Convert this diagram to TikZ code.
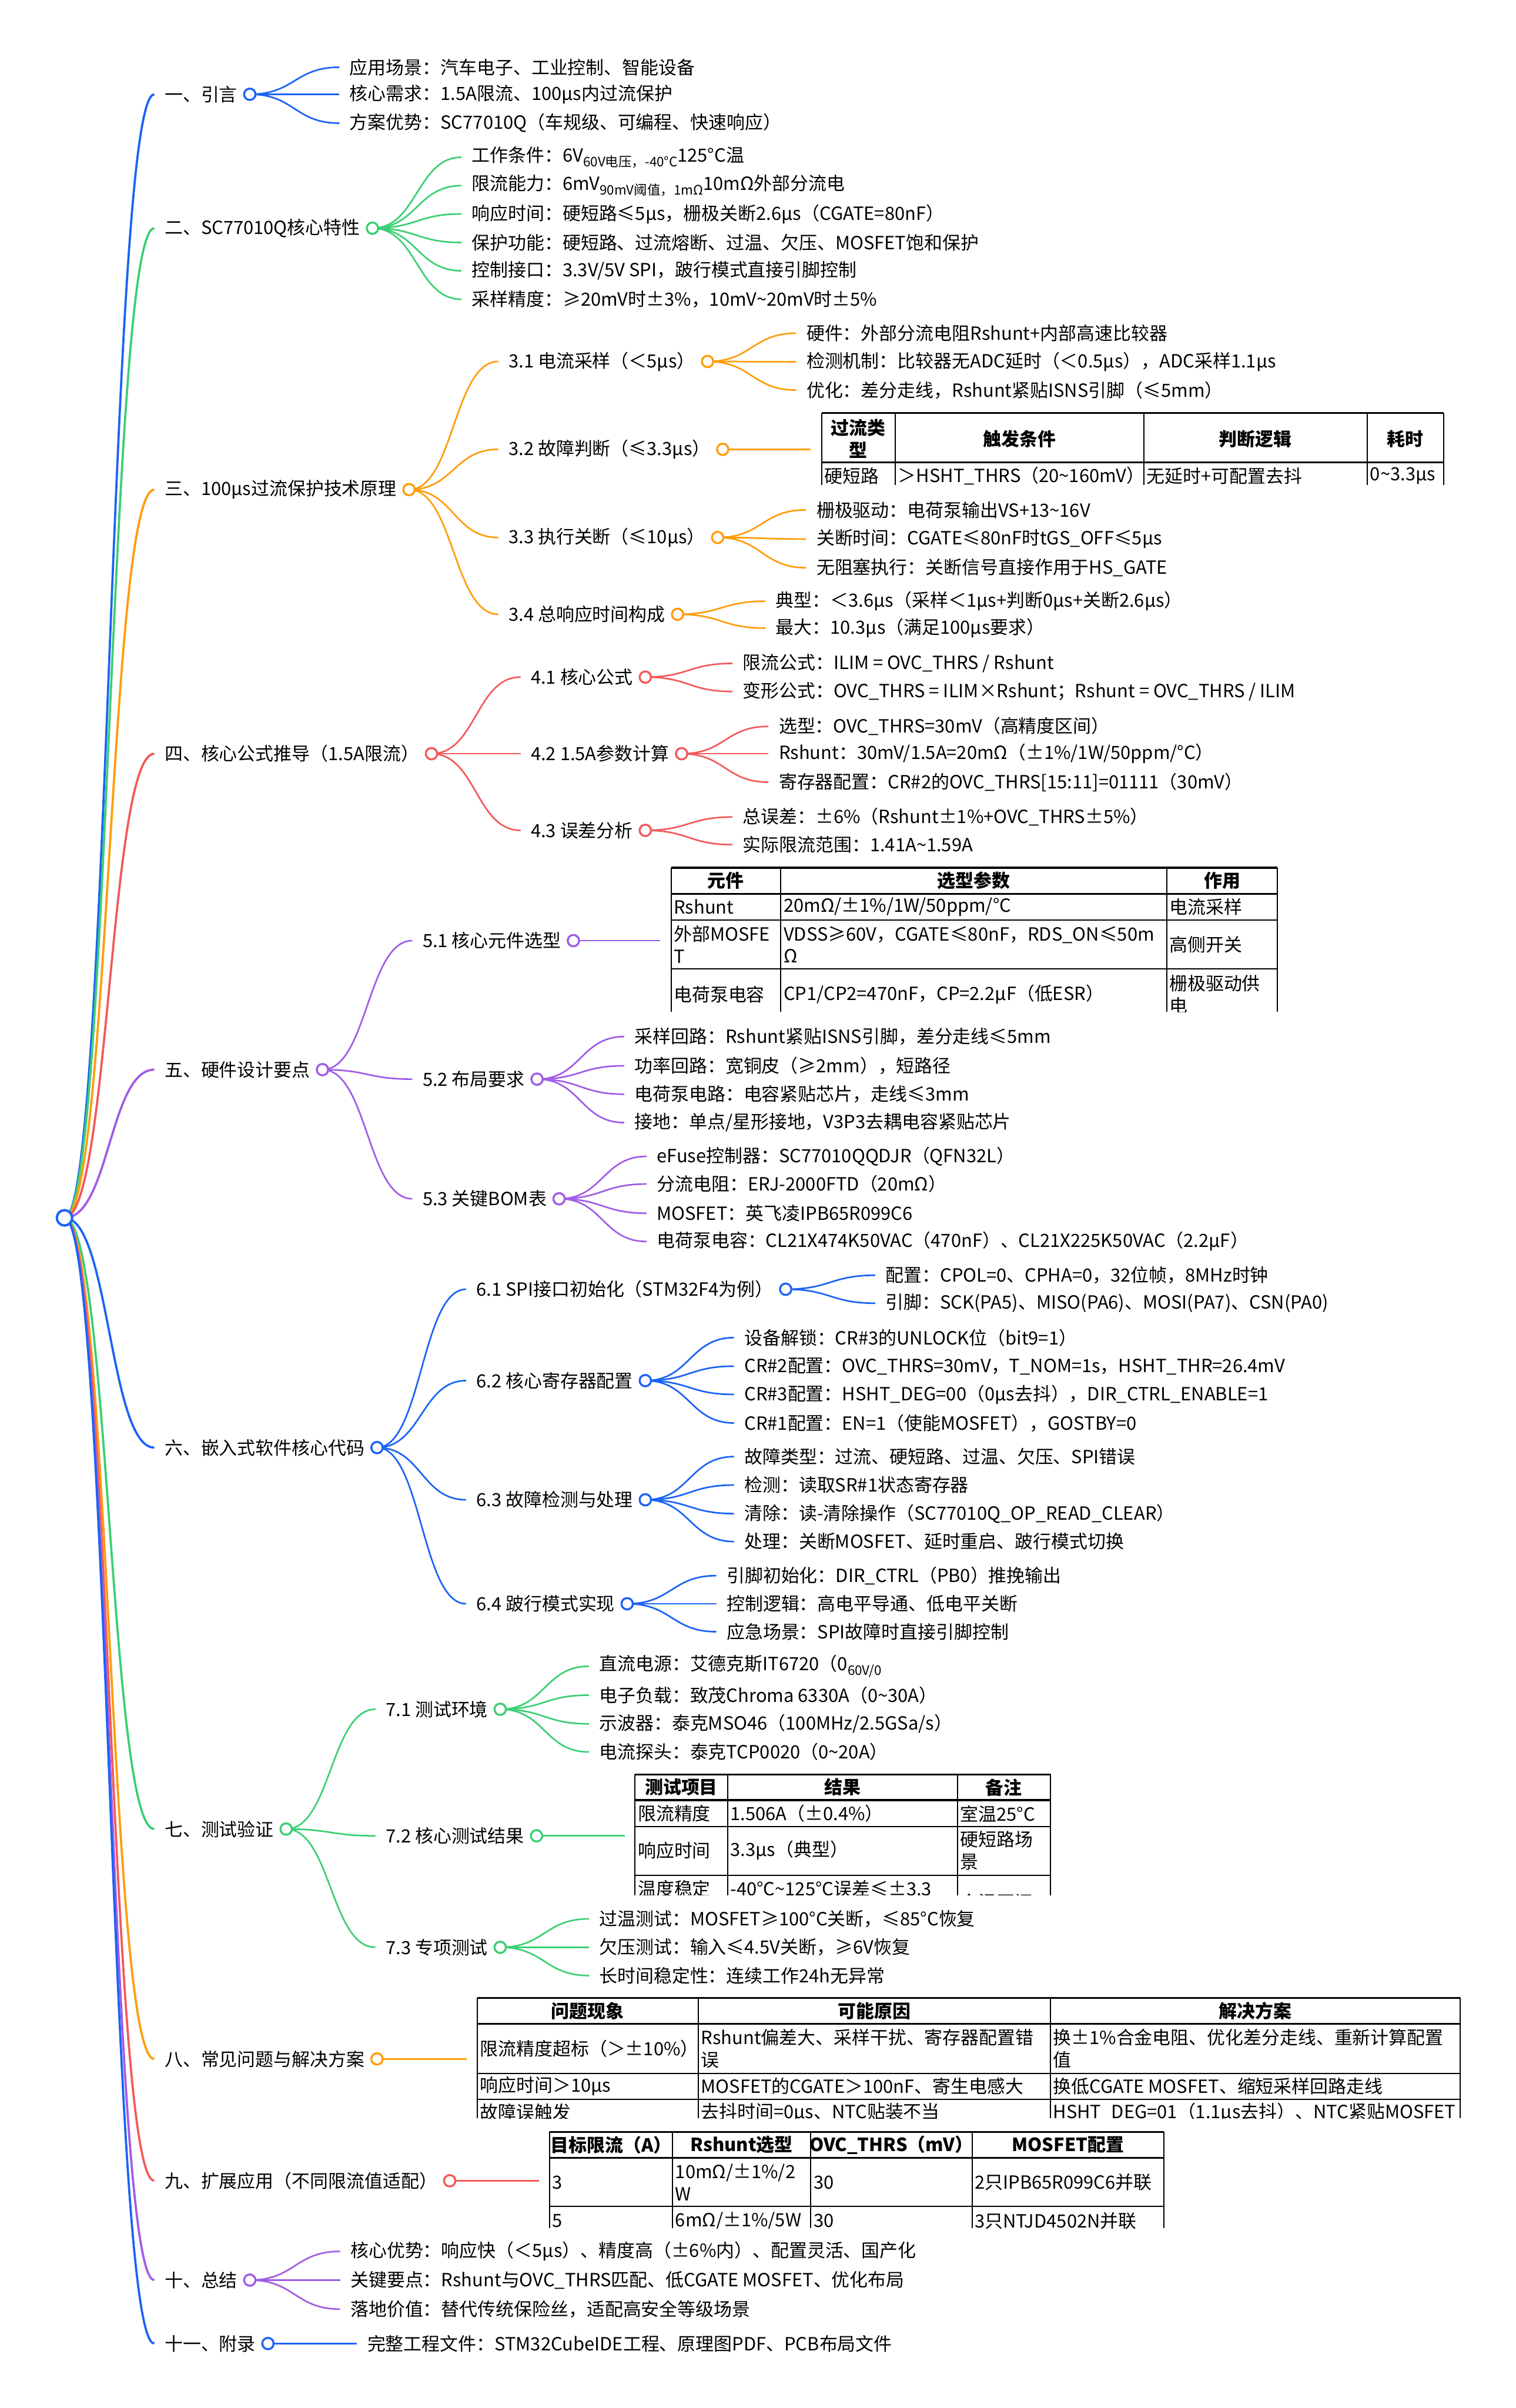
\documentclass[tikz,border=0pt]{standalone}
\usepackage{fontspec}
\setmainfont{Noto Sans CJK SC}
\usepackage{tikz}
\usetikzlibrary{calc}
\definecolor{mBlue}{HTML}{1B63F5}
\definecolor{mGreen}{HTML}{3CCF74}
\definecolor{mOrange}{HTML}{FF9D0A}
\definecolor{mRed}{HTML}{F25A5A}
\definecolor{mPurple}{HTML}{A05CE6}
\newcommand\tld{\textasciitilde}
\newcommand\lowsub[1]{\raisebox{-.5ex}{\fontsize{6.6}{7}\selectfont #1}}

\begin{document}
\begin{tikzpicture}[x=0.02703cm,y=-0.02703cm,
  font=\fontsize{9.1}{11}\selectfont,
  txt/.style={anchor=west,inner xsep=5pt,inner ysep=1pt},
  ring/.style={circle,draw=#1,fill=white,line width=1pt,inner sep=0pt,minimum size=2mm},
  lnk/.style={draw=#1,line width=.8pt,to path={let \p1=(\tikztostart),\p2=(\tikztotarget) in
    .. controls ({(\x1+\x2)/2},\y1) and ({(\x1+\x2)/2},\y2) .. (\tikztotarget)}},
  tline/.style={line width=.6pt},
  tcell/.style={anchor=west,inner xsep=1.2pt,inner ysep=0pt,align=left},
  thead/.style={inner sep=0pt,align=center,font=\fontsize{9.1}{11}\selectfont\bfseries}]
  \path[use as bounding box,fill=white] (0,0) rectangle (987,1568);
  \coordinate (rt) at (42,793);

  % level 1
  \foreach \y/\lbl/\c [count=\i] in {61.4/{一、引言}/mBlue,148.6/{二、SC77010Q核心特性}/mGreen,
    318.8/{三、100μs过流保护技术原理}/mOrange,490.8/{四、核心公式推导（1.5A限流）}/mRed,
    696.5/{五、硬件设计要点}/mPurple,942.6/{六、嵌入式软件核心代码}/mBlue,1191/{七、测试验证}/mGreen,
    1340.7/{八、常见问题与解决方案}/mOrange,1420/{九、扩展应用（不同限流值适配）}/mRed,
    1484.7/{十、总结}/mPurple,1526/{十一、附录}/mBlue}
    {\node[txt] (s\i) at (100.5,\y) {\lbl}; \coordinate (c\i) at ([xshift=1pt]s\i.east);
     \draw[lnk=\c,line width=1.1pt] (rt) to (s\i.west);}

  % 一
  \foreach \y/\lbl [count=\i] in {43.8/{应用场景：汽车电子、工业控制、智能设备},61.4/{核心需求：1.5A限流、100μs内过流保护},
    80.2/{方案优势：SC77010Q（车规级、可编程、快速响应）}}
    {\node[txt] (l1\i) at (221,\y) {\lbl}; \draw[lnk=mBlue] (c1) to (l1\i.west);}

  % 二
  \foreach \y/\lbl [count=\i] in {102.4/{工作条件：6V\lowsub{60V电压，-40°C}125°C温},
    120.9/{限流能力：6mV\lowsub{90mV阈值，1mΩ}10mΩ外部分流电},
    139.3/{响应时间：硬短路≤5μs，栅极关断2.6μs（CGATE=80nF）},
    157.9/{保护功能：硬短路、过流熔断、过温、欠压、MOSFET饱和保护},
    176.3/{控制接口：3.3V/5V SPI，跛行模式直接引脚控制},
    194.9/{采样精度：≥20mV时±3\%，10mV\tld20mV时±5\%}}
    {\node[txt] (l2\i) at (300.5,\y) {\lbl}; \draw[lnk=mGreen] (c2) to (l2\i.west);}

  % 三
  \foreach \y/\lbl/\k in {235.4/{3.1 电流采样（＜5μs）}/31,292.6/{3.2 故障判断（≤3.3μs）}/32,
    350/{3.3 执行关断（≤10μs）}/33,400/{3.4 总响应时间构成}/34}
    {\node[txt] (n\k) at (324.5,\y) {\lbl}; \coordinate (c\k) at ([xshift=1pt]n\k.east);
     \draw[lnk=mOrange] (c3) to (n\k.west);}
  \foreach \y/\lbl [count=\i] in {217/{硬件：外部分流电阻Rshunt+内部高速比较器},
    235.6/{检测机制：比较器无ADC延时（＜0.5μs），ADC采样1.1μs},
    254/{优化：差分走线，Rshunt紧贴ISNS引脚（≤5mm）}}
    {\node[txt] (l31\i) at (518.5,\y) {\lbl}; \draw[lnk=mOrange] (c31) to (l31\i.west);}
  \coordinate (k32) at (528,292.6);
  \draw[mOrange,line width=.8pt] (c32) -- (k32);
  \foreach \y/\lbl [count=\i] in {332/{栅极驱动：电荷泵输出VS+13\tld16V},
    351/{关断时间：CGATE≤80nF时tGS\_OFF≤5μs},369.7/{无阻塞执行：关断信号直接作用于HS\_GATE}}
    {\node[txt] (l33\i) at (525,\y) {\lbl}; \draw[lnk=mOrange] (c33) to (l33\i.west);}
  \foreach \y/\lbl [count=\i] in {391.5/{典型：＜3.6μs（采样＜1μs+判断0μs+关断2.6μs）},
    409/{最大：10.3μs（满足100μs要求）}}
    {\node[txt] (l34\i) at (498.5,\y) {\lbl}; \draw[lnk=mOrange] (c34) to (l34\i.west);}

  % 3.2 table
  \begin{scope}
    \clip (534,268) rectangle (941,316);
    \draw[tline] \foreach \x in {535,583,745,890.5,940}{(\x,269) -- (\x,316)};
    \draw[tline,line width=1pt] (535,269) -- (940,269) (535,301) -- (940,301);
    \foreach \x/\lbl [count=\i] in {559/{过流类\\型},664/触发条件,817.5/判断逻辑,915/耗时}
      \node[thead] (h32\i) at (\x,285.7) {\lbl};
    \foreach \x/\lbl [count=\i] in {535/硬短路,583/{＞HSHT\_THRS（20\tld160mV）},745/{无延时+可配置去抖},890.5/{0\tld3.3μs}}
      \node[tcell] (d32\i) at (\x,310) {\lbl};
  \end{scope}

  % 四
  \foreach \y/\lbl/\k in {440.9/{4.1 核心公式}/41,490.8/{4.2 1.5A参数计算}/42,540.7/{4.3 误差分析}/43}
    {\node[txt] (n\k) at (339,\y) {\lbl}; \coordinate (c\k) at ([xshift=1pt]n\k.east);
     \draw[lnk=mRed] (c4) to (n\k.west);}
  \foreach \y/\lbl [count=\i] in {432/{限流公式：ILIM = OVC\_THRS / Rshunt},
    450.3/{变形公式：OVC\_THRS = ILIM×Rshunt；Rshunt = OVC\_THRS / ILIM}}
    {\node[txt] (l41\i) at (477,\y) {\lbl}; \draw[lnk=mRed] (c41) to (l41\i.west);}
  \foreach \y/\lbl [count=\i] in {473/{选型：OVC\_THRS=30mV（高精度区间）},
    490.8/{Rshunt：30mV/1.5A=20mΩ（±1\%/1W/50ppm/°C）},
    509.3/{寄存器配置：CR\#2的OVC\_THRS[15:11]=01111（30mV）}}
    {\node[txt] (l42\i) at (500.5,\y) {\lbl}; \draw[lnk=mRed] (c42) to (l42\i.west);}
  \foreach \y/\lbl [count=\i] in {532/{总误差：±6\%（Rshunt±1\%+OVC\_THRS±5\%）},550/{实际限流范围：1.41A\tld1.59A}}
    {\node[txt] (l43\i) at (477,\y) {\lbl}; \draw[lnk=mRed] (c43) to (l43\i.west);}

  % 五
  \foreach \y/\lbl/\k in {612.5/{5.1 核心元件选型}/51,702.7/{5.2 布局要求}/52,780.6/{5.3 关键BOM表}/53}
    {\node[txt] (n\k) at (268.5,\y) {\lbl}; \coordinate (c\k) at ([xshift=1pt]n\k.east);
     \draw[lnk=mPurple] (c5) to (n\k.west);}
  \coordinate (k51) at (430,612.5);
  \draw[mPurple,line width=.8pt] (c51) -- (k51);
  \foreach \y/\lbl [count=\i] in {675/{采样回路：Rshunt紧贴ISNS引脚，差分走线≤5mm},694/{功率回路：宽铜皮（≥2mm），短路径},
    712.5/{电荷泵电路：电容紧贴芯片，走线≤3mm},731/{接地：单点/星形接地，V3P3去耦电容紧贴芯片}}
    {\node[txt] (l52\i) at (406.5,\y) {\lbl}; \draw[lnk=mPurple] (c52) to (l52\i.west);}
  \foreach \y/\lbl [count=\i] in {753/{eFuse控制器：SC77010QQDJR（QFN32L）},771/{分流电阻：ERJ-2000FTD（20mΩ）},
    790/{MOSFET：英飞凌IPB65R099C6},808.4/{电荷泵电容：CL21X474K50VAC（470nF）、CL21X225K50VAC（2.2μF）}}
    {\node[txt] (l53\i) at (421,\y) {\lbl}; \draw[lnk=mPurple] (c53) to (l53\i.west);}

  % 5.1 table
  \begin{scope}
    \clip (436,564) rectangle (833,659);
    \draw[tline] \foreach \x in {437,508.5,759.7,832}{(\x,565) -- (\x,659)}
      (437,599) -- (832,599) (437,630.8) -- (832,630.8);
    \draw[tline,line width=1pt] (437,565) -- (832,565) (437,582) -- (832,582);
    \foreach \x/\lbl [count=\i] in {472.7/元件,634/选型参数,796/作用}
      \node[thead] (h51\i) at (\x,573.5) {\lbl};
    \foreach \y/\a/\b/\c [count=\i] in {590.5/Rshunt/{20mΩ/±1\%/1W/50ppm/°C}/电流采样,
      615/{外部MOSFE\\T}/{VDSS≥60V，CGATE≤80nF，RDS\_ON≤50m\\Ω}/高侧开关,
      647.5/电荷泵电容/{CP1/CP2=470nF，CP=2.2μF（低ESR）}/{栅极驱动供\\电}}
      {\node[tcell] (a51\i) at (437,\y) {\a}; \node[tcell] (b51\i) at (508.5,\y) {\b};
       \node[tcell] (e51\i) at (759.7,\y) {\c};}
  \end{scope}

  % 六
  \foreach \y/\lbl/\k in {839.5/{6.1 SPI接口初始化（STM32F4为例）}/61,899/{6.2 核心寄存器配置}/62,
    976.6/{6.3 故障检测与处理}/63,1044.3/{6.4 跛行模式实现}/64}
    {\node[txt] (n\k) at (303.5,\y) {\lbl}; \coordinate (c\k) at ([xshift=1pt]n\k.east);
     \draw[lnk=mBlue] (c6) to (n\k.west);}
  \foreach \y/\lbl [count=\i] in {830.4/{配置：CPOL=0、CPHA=0，32位帧，8MHz时钟},
    848.6/{引脚：SCK(PA5)、MISO(PA6)、MOSI(PA7)、CSN(PA0)}}
    {\node[txt] (l61\i) at (570,\y) {\lbl}; \draw[lnk=mBlue] (c61) to (l61\i.west);}
  \foreach \y/\lbl [count=\i] in {871/{设备解锁：CR\#3的UNLOCK位（bit9=1）},
    889.6/{CR\#2配置：OVC\_THRS=30mV，T\_NOM=1s，HSHT\_THR=26.4mV},
    908/{CR\#3配置：HSHT\_DEG=00（0μs去抖），DIR\_CTRL\_ENABLE=1},
    926.6/{CR\#1配置：EN=1（使能MOSFET），GOSTBY=0}}
    {\node[txt] (l62\i) at (478,\y) {\lbl}; \draw[lnk=mBlue] (c62) to (l62\i.west);}
  \foreach \y/\lbl [count=\i] in {948.5/{故障类型：过流、硬短路、过温、欠压、SPI错误},967/{检测：读取SR\#1状态寄存器},
    985.6/{清除：读-清除操作（SC77010Q\_OP\_READ\_CLEAR）},1003.8/{处理：关断MOSFET、延时重启、跛行模式切换}}
    {\node[txt] (l63\i) at (478,\y) {\lbl}; \draw[lnk=mBlue] (c63) to (l63\i.west);}
  \foreach \y/\lbl [count=\i] in {1026/{引脚初始化：DIR\_CTRL（PB0）推挽输出},1044.3/{控制逻辑：高电平导通、低电平关断},
    1062.5/{应急场景：SPI故障时直接引脚控制}}
    {\node[txt] (l64\i) at (466.5,\y) {\lbl}; \draw[lnk=mBlue] (c64) to (l64\i.west);}

  % 七
  \foreach \y/\lbl/\k in {1113/{7.1 测试环境}/71,1195.4/{7.2 核心测试结果}/72,1268/{7.3 专项测试}/73}
    {\node[txt] (n\k) at (244.5,\y) {\lbl}; \coordinate (c\k) at ([xshift=1pt]n\k.east);
     \draw[lnk=mGreen] (c7) to (n\k.west);}
  \foreach \y/\lbl [count=\i] in {1085/{直流电源：艾德克斯IT6720（0\lowsub{60V/0}},
    1103.8/{电子负载：致茂Chroma 6330A（0\tld30A）},1122.5/{示波器：泰克MSO46（100MHz/2.5GSa/s）},
    1140.8/{电流探头：泰克TCP0020（0\tld20A）}}
    {\node[txt] (l71\i) at (383.5,\y) {\lbl}; \draw[lnk=mGreen] (c71) to (l71\i.west);}
  \coordinate (k72) at (407,1195.4);
  \draw[mGreen,line width=.8pt] (c72) -- (k72);
  \foreach \y/\lbl [count=\i] in {1249.5/{过温测试：MOSFET≥100°C关断，≤85°C恢复},
    1268/{欠压测试：输入≤4.5V关断，≥6V恢复},1286.4/{长时间稳定性：连续工作24h无异常}}
    {\node[txt] (l73\i) at (383.5,\y) {\lbl}; \draw[lnk=mGreen] (c73) to (l73\i.west);}

  % 7.2 table
  \begin{scope}
    \clip (412.6,1154.4) rectangle (685,1234);
    \draw[tline] \foreach \x in {413.6,473.8,623.5,684}{(\x,1155.4) -- (\x,1234)}
      (413.6,1189.5) -- (684,1189.5) (413.6,1221) -- (684,1221);
    \draw[tline,line width=1pt] (413.6,1155.4) -- (684,1155.4) (413.6,1172.2) -- (684,1172.2);
    \foreach \x/\lbl [count=\i] in {443.7/测试项目,548.6/结果,653.7/备注}
      \node[thead] (h72\i) at (\x,1163.8) {\lbl};
    \foreach \y/\a/\b/\c [count=\i] in {1181/限流精度/{1.506A（±0.4\%）}/室温25°C,
      1205/响应时间/{3.3μs（典型）}/{硬短路场\\景},1230/温度稳定/{-40°C\tld125°C误差≤±3.3}/{}}
      {\node[tcell] (a72\i) at (413.6,\y) {\a}; \node[tcell] (b72\i) at (473.8,\y) {\b};
       \node[tcell] (e72\i) at (623.5,\y) {\c};}
    \node[tcell] (e725) at (623.5,1238.5) {全温区间};
  \end{scope}

  % 八 table
  \coordinate (k8) at (304,1340.7);
  \draw[mOrange,line width=.8pt] (c8) -- (k8);
  \begin{scope}
    \clip (309.8,1299.9) rectangle (952,1379.3);
    \draw[tline] \foreach \x in {310.8,454.7,684,951}{(\x,1300.9) -- (\x,1379.3)}
      (310.8,1350) -- (951,1350) (310.8,1367) -- (951,1367);
    \draw[tline,line width=1pt] (310.8,1300.9) -- (951,1300.9) (310.8,1317.8) -- (951,1317.8);
    \foreach \x/\lbl [count=\i] in {382.7/问题现象,569.3/可能原因,817.5/解决方案}
      \node[thead] (h8\i) at (\x,1309.4) {\lbl};
    \foreach \y/\a/\b/\c [count=\i] in {1334/{限流精度超标（＞±10\%）}/{Rshunt偏差大、采样干扰、寄存器配置错\\误}/{换±1\%合金电阻、优化差分走线、重新计算配置\\值},
      1358.5/{响应时间＞10μs}/{MOSFET的CGATE＞100nF、寄生电感大}/{换低CGATE MOSFET、缩短采样回路走线},
      1375.5/故障误触发/{去抖时间=0μs、NTC贴装不当}/{HSHT\_DEG=01（1.1μs去抖）、NTC紧贴MOSFET}}
      {\node[tcell] (a8\i) at (310.8,\y) {\a}; \node[tcell] (b8\i) at (454.7,\y) {\b};
       \node[tcell] (e8\i) at (684,\y) {\c};}
  \end{scope}

  % 九 table
  \coordinate (k9) at (351,1420);
  \draw[mRed,line width=.8pt] (c9) -- (k9);
  \begin{scope}
    \clip (357,1387.2) rectangle (759,1451);
    \draw[tline] \foreach \x in {358,438,528,633,758}{(\x,1388.2) -- (\x,1451)} (358,1436.8) -- (758,1436.8);
    \draw[tline,line width=1pt] (358,1388.2) -- (758,1388.2) (358,1405) -- (758,1405);
    \foreach \x/\lbl [count=\i] in {398/{目标限流（A）},483/Rshunt选型,580.5/{OVC\_THRS（mV）},695.5/MOSFET配置}
      \node[thead] (h9\i) at (\x,1396.6) {\lbl};
    \foreach \y/\a/\b/\c/\d [count=\i] in {1421/3/{10mΩ/±1\%/2\\W}/30/2只IPB65R099C6并联,
      1446/5/{6mΩ/±1\%/5W}/30/3只NTJD4502N并联}
      {\node[tcell] (a9\i) at (358,\y) {\a}; \node[tcell] (b9\i) at (438,\y) {\b};
       \node[tcell] (e9\i) at (528,\y) {\c}; \node[tcell] (f9\i) at (633,\y) {\d};}
  \end{scope}

  % 十, 十一
  \foreach \y/\lbl [count=\i] in {1466/{核心优势：响应快（＜5μs）、精度高（±6\%内）、配置灵活、国产化},
    1484.7/{关键要点：Rshunt与OVC\_THRS匹配、低CGATE MOSFET、优化布局},
    1503.6/{落地价值：替代传统保险丝，适配高安全等级场景}}
    {\node[txt] (l10\i) at (221.5,\y) {\lbl}; \draw[lnk=mPurple] (c10) to (l10\i.west);}
  \node[txt] (l111) at (232.5,1526) {完整工程文件：STM32CubeIDE工程、原理图PDF、PCB布局文件};
  \draw[lnk=mBlue] (c11) to (l111.west);

  % circles on top
  \foreach \k/\c in {1/mBlue,2/mGreen,3/mOrange,4/mRed,5/mPurple,6/mBlue,7/mGreen,8/mOrange,9/mRed,
    10/mPurple,11/mBlue,31/mOrange,32/mOrange,33/mOrange,34/mOrange,41/mRed,42/mRed,43/mRed,
    51/mPurple,52/mPurple,53/mPurple,61/mBlue,62/mBlue,63/mBlue,64/mBlue,71/mGreen,72/mGreen,73/mGreen}
    \node[ring=\c] (o\k) at (c\k) {};
  \node[ring=mBlue,minimum size=2.7mm,line width=1.2pt] (root) at (rt) {};
\end{tikzpicture}
\end{document}
